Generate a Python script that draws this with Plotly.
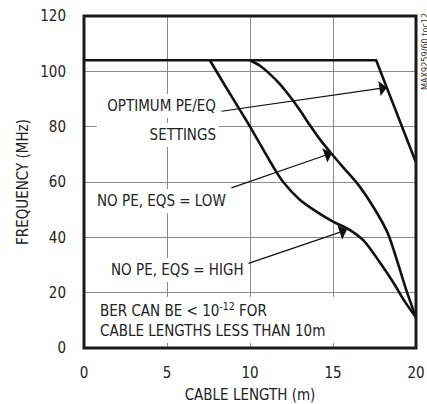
import plotly.graph_objects as go

# ---- data ----
opt_x = [0, 17.6, 20]
opt_y = [104, 104, 67]

low_x = [10, 10.6, 11.2, 11.8, 12.5, 13.0, 13.6, 14.2, 14.9, 15.6, 16.45, 17.45, 18.3, 19.4, 20]
low_y = [104, 102, 99, 95.4, 90.2, 86, 80.6, 75.5, 70.3, 65.4, 59.6, 50.8, 41.5, 21.2, 11]

high_x = [7.58, 8.5, 9.5, 10.0, 10.8, 11.4, 12.0, 13.0, 14.0, 15.0, 16.0, 16.85, 17.85, 18.66, 19.26, 20]
high_y = [104, 94.8, 85, 80, 71.7, 65.5, 60, 53.6, 49.3, 45.7, 42.7, 38.8, 30.7, 23.4, 17.4, 11]

x_ticks = [0, 5, 10, 15, 20]
y_ticks = [0, 20, 40, 60, 80, 100, 120]

FONT = "DejaVu Sans Condensed, Liberation Sans Narrow, Arial Narrow, sans-serif"
INK = "#222222"

fig = go.Figure()
fig.add_trace(go.Scatter(x=opt_x, y=opt_y, mode="lines",
                         line=dict(color="#111111", width=2.6),
                         showlegend=False, hoverinfo="skip"))
for xs, ys in [(low_x, low_y), (high_x, high_y)]:
    fig.add_trace(go.Scatter(x=xs, y=ys, mode="lines",
                             line=dict(color="#111111", width=2.6, shape="spline", smoothing=0.8),
                             showlegend=False, hoverinfo="skip"))

# border
fig.add_shape(type="rect", xref="paper", yref="paper", x0=0, x1=1, y0=0, y1=1,
              line=dict(color="#1a1a1a", width=3), layer="above")

tf = dict(family=FONT, size=15, color=INK)
# (text, x, y, xanchor, align, box width px)
texts = [
    ("OPTIMUM PE/EQ", 8.15, 87.4, "right", "right", 116),
    ("SETTINGS", 8.15, 77.1, "right", "right", 116),
    ("NO PE, EQS = LOW", 8.73, 53.0, "right", "right", None),
    ("NO PE, EQS = HIGH", 9.84, 28.2, "right", "right", None),
    ("BER CAN BE &lt; 10<sup>-12</sup> FOR", 0.8, 13.8, "left", "left", 236),
    ("CABLE LENGTHS LESS THAN 10m", 0.8, 6.0, "left", "left", 236),
]
for t, x, y, anc, al, w in texts:
    fig.add_annotation(text=t, x=x, y=y, xref="x", yref="y", xanchor=anc, yanchor="middle",
                       align=al, width=w, showarrow=False, font=tf, borderpad=3,
                       bgcolor="white", borderwidth=0)

arrows = [((18.25, 94.2), (8.19, 85.5)),
          ((14.94, 70.5), (8.79, 57.7)),
          ((15.84, 42.7), (9.82, 30.4))]
for (tx, ty), (sx, sy) in arrows:
    fig.add_annotation(text="", x=tx, y=ty, ax=sx, ay=sy, xref="x", yref="y",
                       axref="x", ayref="y", showarrow=True, arrowhead=1,
                       arrowsize=2.1, arrowwidth=1.2, arrowcolor="#111111")

fig.add_annotation(text="MAX9259/60 toc12", xref="paper", yref="paper",
                   x=1, y=(348 - 52) / 332, textangle=-90, xshift=2,
                   showarrow=False, font=dict(family=FONT, size=9, color="#333333"),
                   xanchor="left", yanchor="middle")

fig.update_xaxes(range=[0, 20], tickvals=x_ticks, showgrid=True, gridcolor="#8a8a8a", gridwidth=1,
                 zeroline=False, showline=False, ticks="", ticklabelstandoff=14, automargin=False,
                 tickfont=dict(family=FONT, size=15, color=INK),
                 title=dict(text="CABLE LENGTH (m)", font=dict(family=FONT, size=15, color=INK), standoff=10))
fig.update_yaxes(range=[0, 120], tickvals=y_ticks, showgrid=True, gridcolor="#8a8a8a", gridwidth=1,
                 zeroline=False, showline=False, ticks="", ticklabelstandoff=17, automargin=False,
                 tickfont=dict(family=FONT, size=15, color=INK),
                 title=dict(text="FREQUENCY (MHz)", font=dict(family=FONT, size=15, color=INK), standoff=7))

fig.update_layout(width=427, height=404, margin=dict(l=84, r=11, t=16, b=56),
                  plot_bgcolor="white", paper_bgcolor="white")

fig.write_html("out.html", config={"displayModeBar": False},
               post_script="document.body.style.margin='0';document.body.style.overflow='hidden';")
